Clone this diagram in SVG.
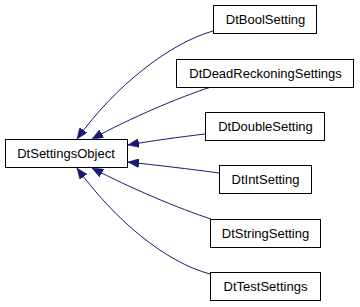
<svg xmlns="http://www.w3.org/2000/svg" width="360" height="307" viewBox="0 0 360 307">
<style>
.n rect{fill:#fff;stroke:#000;stroke-width:1}
.n text{font-family:"Liberation Sans",Arial,sans-serif;font-size:13px;text-anchor:middle;fill:#000}
.e path{fill:none;stroke:#191970;stroke-width:1;marker-end:url(#ah)}
</style>
<defs>
<marker id="ah" markerUnits="userSpaceOnUse" markerWidth="11" markerHeight="9" refX="11" refY="4.5" orient="auto" viewBox="0 0 11 9">
<path d="M0,0 L11,4.5 L0,9 z" fill="#191970" stroke="#191970" stroke-width="0.5"/>
</marker>
</defs>
<rect width="360" height="307" fill="#fff"/>
<g class="e" id="edges">
<path d="M213,31 C170,43 115,86 77,139"/>
<path d="M211,87 C180,97 130,118 92,139"/>
<path d="M205,134 C180,137 150,141 128,145"/>
<path d="M219,173 C190,169 155,165 128,162"/>
<path d="M211,219 C180,209 130,188 92,168"/>
<path d="M210,274 C165,262 115,220 77,168"/>
</g>
<g class="n" id="DtSettingsObject"><rect x="5.5" y="139.5" width="122" height="28"/><text x="66" y="157.5">DtSettingsObject</text></g>
<g class="n" id="DtBoolSetting"><rect x="213.5" y="5.5" width="103" height="28"/><text x="265.5" y="23.5">DtBoolSetting</text></g>
<g class="n" id="DtDeadReckoningSettings"><rect x="176.5" y="59.5" width="177" height="28"/><text x="265.5" y="77.5">DtDeadReckoningSettings</text></g>
<g class="n" id="DtDoubleSetting"><rect x="205.5" y="112.5" width="119" height="28"/><text x="265.5" y="130.5">DtDoubleSetting</text></g>
<g class="n" id="DtIntSetting"><rect x="219.5" y="165.5" width="92" height="28"/><text x="265.5" y="183.5">DtIntSetting</text></g>
<g class="n" id="DtStringSetting"><rect x="210.5" y="219.5" width="110" height="28"/><text x="265.5" y="237.5">DtStringSetting</text></g>
<g class="n" id="DtTestSettings"><rect x="210.5" y="272.5" width="110" height="28"/><text x="265.5" y="290.5">DtTestSettings</text></g>
</svg>
